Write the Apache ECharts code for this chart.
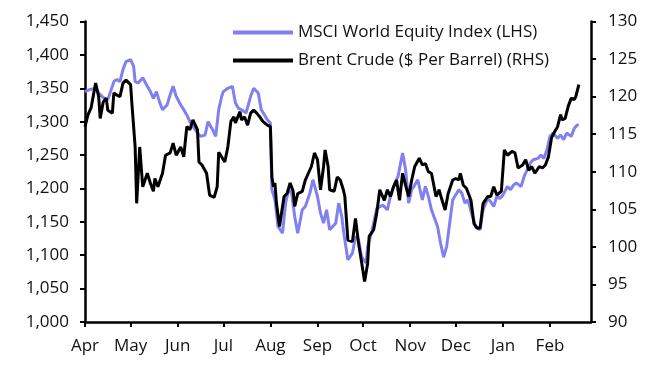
<!DOCTYPE html>
<html>
<head>
<meta charset="utf-8">
<script src="https://cdn.jsdelivr.net/npm/echarts@6/dist/echarts.min.js"></script>
<style>html,body{margin:0;padding:0;background:#fff}#c{width:666px;height:365px}</style>
</head>
<body>
<div id="c"></div>
<script>
var monthNames = ['Jan','Feb','Mar','Apr','May','Jun','Jul','Aug','Sep','Oct','Nov','Dec'];
var seriesNames = ['MSCI World Equity Index (LHS)', 'Brent Crude ($ Per Barrel) (RHS)'];

var msciDates = ['2011-04-01','2011-04-04','2011-04-08','2011-04-10','2011-04-13','2011-04-16','2011-04-19','2011-04-20','2011-04-22','2011-04-24','2011-04-26','2011-04-28',
'2011-05-01','2011-05-03','2011-05-04','2011-05-06','2011-05-08','2011-05-09','2011-05-12','2011-05-14','2011-05-16','2011-05-18','2011-05-20','2011-05-22','2011-05-25','2011-05-27','2011-05-29','2011-05-31',
'2011-06-03','2011-06-05','2011-06-07','2011-06-09','2011-06-11','2011-06-14','2011-06-16','2011-06-19','2011-06-21','2011-06-24','2011-06-26','2011-06-28','2011-06-30',
'2011-07-01','2011-07-04','2011-07-07','2011-07-09','2011-07-11','2011-07-13','2011-07-16','2011-07-19','2011-07-21','2011-07-24','2011-07-26','2011-07-30',
'2011-08-01','2011-08-02','2011-08-04','2011-08-06','2011-08-09','2011-08-11','2011-08-13','2011-08-15','2011-08-17','2011-08-19','2011-08-22','2011-08-24','2011-08-27','2011-08-29',
'2011-09-01','2011-09-03','2011-09-05','2011-09-07','2011-09-09','2011-09-13','2011-09-15','2011-09-17','2011-09-18','2011-09-21','2011-09-24','2011-09-26','2011-09-28','2011-09-30',
'2011-10-03','2011-10-04','2011-10-07','2011-10-10','2011-10-14','2011-10-17','2011-10-19','2011-10-22','2011-10-24','2011-10-27','2011-10-29','2011-10-31',
'2011-11-02','2011-11-04','2011-11-06','2011-11-09','2011-11-11','2011-11-13','2011-11-15','2011-11-19','2011-11-21','2011-11-23','2011-11-25','2011-11-27','2011-11-29',
'2011-12-03','2011-12-05','2011-12-07','2011-12-09','2011-12-12','2011-12-14','2011-12-17','2011-12-19','2011-12-22','2011-12-24','2011-12-26','2011-12-28','2011-12-30',
'2012-01-01','2012-01-04','2012-01-06','2012-01-08','2012-01-10','2012-01-13','2012-01-15','2012-01-17','2012-01-19','2012-01-21','2012-01-24','2012-01-26','2012-01-28','2012-01-30',
'2012-02-01','2012-02-03','2012-02-06','2012-02-08','2012-02-10','2012-02-12','2012-02-15','2012-02-17','2012-02-19','2012-02-20'];
var msciValues = [1345,1348,1350,1343,1336,1333,1353,1360,1363,1360,1378,1390,
1393,1383,1360,1358,1363,1366,1353,1345,1335,1345,1330,1318,1325,1340,1353,1338,
1325,1318,1310,1300,1293,1283,1278,1280,1300,1288,1278,1318,1338,
1345,1350,1353,1328,1320,1318,1313,1338,1350,1343,1318,1303,
1298,1198,1183,1143,1133,1178,1198,1193,1158,1133,1168,1173,1193,1213,
1188,1163,1148,1168,1138,1148,1178,1158,1138,1093,1103,1128,1123,1098,
1088,1113,1138,1170,1175,1168,1188,1208,1218,1253,1228,1178,
1198,1205,1213,1183,1203,1188,1168,1143,1118,1097,1113,1148,1183,
1198,1193,1178,1183,1158,1143,1138,1168,1185,1180,1173,1188,1185,
1190,1203,1198,1205,1208,1203,1218,1228,1238,1243,1245,1250,1245,1258,
1278,1283,1275,1280,1273,1283,1278,1290,1295,1295];

var brentDates = ['2011-04-01','2011-04-03','2011-04-05','2011-04-08','2011-04-10','2011-04-11','2011-04-13','2011-04-15','2011-04-16','2011-04-19','2011-04-20','2011-04-22','2011-04-24','2011-04-26','2011-04-28',
'2011-05-01','2011-05-02','2011-05-04','2011-05-05','2011-05-07','2011-05-09','2011-05-12','2011-05-14','2011-05-16','2011-05-17','2011-05-19','2011-05-22','2011-05-24','2011-05-27','2011-05-29','2011-05-31',
'2011-06-03','2011-06-05','2011-06-07','2011-06-09','2011-06-11','2011-06-14','2011-06-15','2011-06-17','2011-06-20','2011-06-22','2011-06-25','2011-06-27','2011-06-28',
'2011-07-02','2011-07-04','2011-07-06','2011-07-08','2011-07-09','2011-07-12','2011-07-13','2011-07-15','2011-07-17','2011-07-19','2011-07-21','2011-07-23','2011-07-25','2011-07-27','2011-07-30',
'2011-08-01','2011-08-02','2011-08-03','2011-08-04','2011-08-05','2011-08-07','2011-08-10','2011-08-12','2011-08-14','2011-08-16','2011-08-17','2011-08-19','2011-08-22','2011-08-24','2011-08-26','2011-08-28','2011-08-30',
'2011-09-01','2011-09-03','2011-09-05','2011-09-06','2011-09-08','2011-09-09','2011-09-12','2011-09-14','2011-09-16','2011-09-18','2011-09-19','2011-09-21','2011-09-24','2011-09-26','2011-09-28','2011-09-30',
'2011-10-02','2011-10-04','2011-10-05','2011-10-08','2011-10-10','2011-10-12','2011-10-15','2011-10-17','2011-10-19','2011-10-21','2011-10-23','2011-10-25','2011-10-27','2011-10-29','2011-10-31',
'2011-11-02','2011-11-04','2011-11-07','2011-11-09','2011-11-11','2011-11-13','2011-11-15','2011-11-18','2011-11-20','2011-11-22','2011-11-24','2011-11-26','2011-11-29',
'2011-12-01','2011-12-03','2011-12-04','2011-12-06','2011-12-08','2011-12-11','2011-12-13','2011-12-15','2011-12-17','2011-12-18','2011-12-19','2011-12-22','2011-12-24','2011-12-26','2011-12-28','2011-12-29','2011-12-31',
'2012-01-02','2012-01-04','2012-01-07','2012-01-09','2012-01-11','2012-01-14','2012-01-16','2012-01-18','2012-01-20','2012-01-22','2012-01-25','2012-01-27','2012-01-29','2012-01-31',
'2012-02-02','2012-02-04','2012-02-06','2012-02-08','2012-02-09','2012-02-11','2012-02-13','2012-02-15','2012-02-17','2012-02-18','2012-02-20'];
var brentValues = [116.0,117.6,118.5,121.8,120.0,117.1,119.3,119.8,118.2,117.8,120.5,120.2,120.0,121.8,122.2,
121.6,118.7,113.3,105.8,113.3,108.0,109.8,108.5,107.4,109.1,108.0,109.8,112.2,112.5,113.8,112.2,
113.3,112.0,116.0,115.6,116.9,115.6,111.3,110.9,109.8,106.9,106.6,108.0,112.6,
111.3,113.3,116.7,117.3,116.5,118.0,116.9,117.3,116.2,117.8,118.2,117.8,117.3,116.7,116.2,
116.0,109.3,108.0,108.5,105.8,102.7,106.7,107.1,108.5,107.4,105.4,107.1,107.4,108.9,109.8,110.7,112.5,
111.6,107.6,110.7,112.9,110.7,107.6,107.4,109.3,108.9,107.6,106.7,100.9,100.7,103.8,100.5,98.0,
95.4,97.8,101.4,102.3,104.5,107.6,106.2,107.6,106.7,108.0,108.9,106.2,109.8,108.2,106.7,
108.9,110.7,111.8,110.9,111.1,110.0,109.8,106.7,107.6,106.2,104.9,107.1,108.9,
109.1,108.9,109.8,108.2,107.8,106.2,103.1,102.5,102.5,102.7,105.8,106.7,106.7,108.0,106.9,106.7,107.4,
112.9,112.2,112.7,112.5,110.5,110.9,111.6,110.2,110.7,109.8,110.7,110.5,110.9,112.0,
114.5,115.3,116.0,117.6,116.9,117.1,118.7,119.8,119.6,120.0,121.6];

var leftTicks = {min: 1000, max: 1450, interval: 50};
var rightTicks = {min: 90, max: 130, interval: 5};

function pairs(d, v) { return d.map(function (x, i) { return [x, v[i]]; }); }

var font = 'Open Sans';
var fs = 17;
var chart = echarts.init(document.getElementById('c'), null, {renderer: 'canvas'});
chart.setOption({
  animation: false,
  backgroundColor: '#fff',
  textStyle: {fontFamily: font},
  grid: {left: 85, right: 75, top: 21.5, bottom: 43, containLabel: false},
  legend: {
    orient: 'vertical', left: 228, top: 19, icon: 'rect', itemWidth: 60, itemHeight: 4, itemGap: 11,
    textStyle: {fontFamily: font, fontSize: fs, color: '#111'},
    data: seriesNames
  },
  xAxis: {
    type: 'time', min: '2011-04-01', max: '2012-02-28', splitNumber: 11,
    axisLine: {lineStyle: {color: '#000', width: 2.5}},
    axisTick: {show: true, length: 5, lineStyle: {color: '#000', width: 2}},
    splitLine: {show: false},
    axisLabel: {
      fontFamily: font, fontSize: fs, color: '#111', margin: 16,
      formatter: function (val) { return monthNames[new Date(val).getMonth()]; }
    }
  },
  yAxis: [{
    type: 'value', position: 'left', min: leftTicks.min, max: leftTicks.max, interval: leftTicks.interval,
    axisLine: {show: true, lineStyle: {color: '#000', width: 2.5}},
    axisTick: {show: true, length: 5, lineStyle: {color: '#000', width: 2}},
    splitLine: {show: false},
    axisLabel: {fontFamily: font, fontSize: fs, color: '#111', margin: 16,
      formatter: function (v) { return v.toLocaleString('en-US'); }}
  }, {
    type: 'value', position: 'right', min: rightTicks.min, max: rightTicks.max, interval: rightTicks.interval,
    axisLine: {show: true, lineStyle: {color: '#000', width: 2.5}},
    axisTick: {show: true, length: 5, lineStyle: {color: '#000', width: 2}},
    splitLine: {show: false},
    axisLabel: {fontFamily: font, fontSize: fs, color: '#111', margin: 17}
  }],
  series: [{
    name: seriesNames[0], type: 'line', yAxisIndex: 0, showSymbol: false, symbol: 'none',
    data: pairs(msciDates, msciValues),
    lineStyle: {color: '#8080f0', width: 3}, itemStyle: {color: '#8080f0'}
  }, {
    name: seriesNames[1], type: 'line', yAxisIndex: 1, showSymbol: false, symbol: 'none',
    data: pairs(brentDates, brentValues),
    lineStyle: {color: '#000', width: 3}, itemStyle: {color: '#000'}
  }]
});
</script>
</body>
</html>
